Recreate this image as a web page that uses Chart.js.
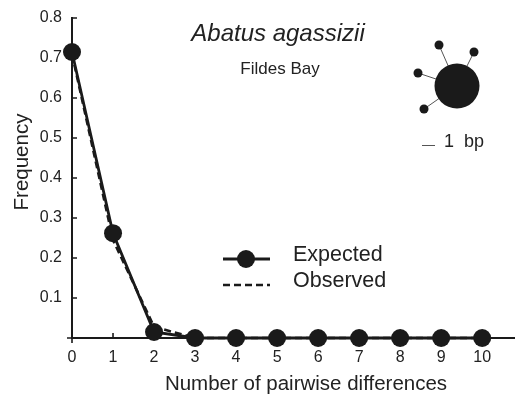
<!DOCTYPE html>
<html><head><meta charset="utf-8">
<script src="https://cdn.jsdelivr.net/npm/chart.js@4.4.1/dist/chart.umd.min.js"></script>
<style>html,body{margin:0;padding:0;background:#fff}#wrap{width:515px;height:395px}</style>
</head><body><div id="wrap"><canvas id="c" width="515" height="395"></canvas></div>
<script>
const categories = [0, 1, 2, 3, 4, 5, 6, 7, 8, 9, 10];
const expected = [0.715, 0.262, 0.015, 0, 0, 0, 0, 0, 0, 0, 0];
const observed = [0.71, 0.245, 0.028, 0, 0, 0, 0, 0, 0, 0, 0];
const xTicks = [0, 1, 2, 3, 4, 5, 6, 7, 8, 9, 10];
const yTicks = [0.1, 0.2, 0.3, 0.4, 0.5, 0.6, 0.7, 0.8];
const seriesNames = ['Expected', 'Observed'];
const titleText = 'Abatus agassizii';
const subtitleText = 'Fildes Bay';
const xTitle = 'Number of pairwise differences';
const yTitle = 'Frequency';
const scaleText = '1  bp';

const FONT = "'Liberation Sans', Arial, Helvetica, sans-serif";
const INK = '#1a1a1a';
const TXT = '#222';

const decor = {
  id: 'decor',
  beforeDatasetsDraw(chart) {
    const ctx = chart.ctx, xs = chart.scales.x, ys = chart.scales.y;
    const x0 = xs.getPixelForValue(0), y0 = ys.getPixelForValue(0);
    ctx.save();
    ctx.strokeStyle = INK; ctx.lineWidth = 1.6;
    ctx.beginPath();
    yTicks.forEach(v => { const p = ys.getPixelForValue(v); ctx.moveTo(x0, p); ctx.lineTo(x0 + 5, p); });
    xTicks.forEach(v => { if (v === 0) return; const p = xs.getPixelForValue(v); ctx.moveTo(p, y0); ctx.lineTo(p, y0 - 5); });
    ctx.moveTo(x0, y0); ctx.lineTo(x0, y0 + 5);
    ctx.moveTo(x0 - 5, y0); ctx.lineTo(x0, y0);
    ctx.stroke();
    ctx.restore();
  },
  afterDraw(chart) {
    const ctx = chart.ctx;
    ctx.save();
    ctx.fillStyle = TXT;
    ctx.textAlign = 'center'; ctx.textBaseline = 'middle';
    ctx.font = 'italic 24px ' + FONT;
    ctx.fillText(titleText, 278, 34);
    ctx.font = '17px ' + FONT;
    ctx.fillText(subtitleText, 280, 69);
    // axis titles
    ctx.font = '20.5px ' + FONT;
    ctx.fillText(xTitle, 306, 384);
    ctx.save();
    ctx.translate(22, 162); ctx.rotate(-Math.PI / 2);
    ctx.fillText(yTitle, 0, 0);
    ctx.restore();
    // legend
    const ds = chart.data.datasets;
    const ly = [259, 285];
    ds.forEach((d, i) => {
      const y = ly[i];
      ctx.strokeStyle = d.borderColor; ctx.lineWidth = d.borderWidth;
      ctx.setLineDash(d.borderDash || []);
      ctx.beginPath(); ctx.moveTo(223, y); ctx.lineTo(270, y); ctx.stroke();
      ctx.setLineDash([]);
      if (d.pointRadius > 0) {
        ctx.fillStyle = d.pointBackgroundColor;
        ctx.beginPath(); ctx.arc(246, y, d.pointRadius, 0, Math.PI * 2); ctx.fill();
      }
      ctx.fillStyle = TXT; ctx.textAlign = 'left';
      ctx.font = '21.5px ' + FONT;
      ctx.fillText(d.label, 293, y - 4);
    });
    // haplotype network inset
    const cx = 457, cy = 86;
    const smalls = [[439, 45], [474, 52], [418, 73], [424, 109]];
    ctx.strokeStyle = '#555'; ctx.lineWidth = 1;
    smalls.forEach(([sx, sy]) => { ctx.beginPath(); ctx.moveTo(sx, sy); ctx.lineTo(cx, cy); ctx.stroke(); });
    ctx.fillStyle = INK;
    ctx.beginPath(); ctx.arc(cx, cy, 22.5, 0, Math.PI * 2); ctx.fill();
    smalls.forEach(([sx, sy]) => { ctx.beginPath(); ctx.arc(sx, sy, 4.5, 0, Math.PI * 2); ctx.fill(); });
    ctx.strokeStyle = '#555'; ctx.lineWidth = 1;
    ctx.beginPath(); ctx.moveTo(422, 145.5); ctx.lineTo(435, 145.5); ctx.stroke();
    ctx.fillStyle = TXT; ctx.textAlign = 'left'; ctx.font = '18px ' + FONT;
    ctx.fillText(scaleText, 444, 142);
    ctx.restore();
  }
};

new Chart(document.getElementById('c'), {
  type: 'line',
  data: {
    datasets: [
      {
        label: seriesNames[0],
        data: categories.map((c, i) => ({ x: c, y: expected[i] })),
        borderColor: INK, borderWidth: 2.8,
        pointRadius: 9, pointHoverRadius: 9,
        pointBackgroundColor: INK, pointBorderColor: INK, pointBorderWidth: 0,
        tension: 0, clip: false
      },
      {
        label: seriesNames[1],
        data: categories.map((c, i) => ({ x: c, y: observed[i] })),
        borderColor: INK, borderWidth: 2.6, borderDash: [7, 4],
        pointRadius: 0, pointHoverRadius: 0,
        tension: 0, clip: false
      }
    ]
  },
  options: {
    responsive: false, animation: false, devicePixelRatio: 1,
    layout: { autoPadding: false, padding: { top: 18, left: 0, right: 0, bottom: 0 } },
    plugins: { legend: { display: false }, tooltip: { enabled: false }, title: { display: false } },
    scales: {
      x: {
        type: 'linear', min: 0, max: 10.8,
        afterBuildTicks: s => { s.ticks = xTicks.map(v => ({ value: v })); },
        afterFit: s => { s.height = 57; s.paddingLeft = 0; s.paddingRight = 0; },
        grid: { display: false, drawTicks: false },
        border: { display: true, color: INK, width: 2 },
        ticks: { padding: 10, color: TXT, font: { size: 16, family: FONT }, autoSkip: false, maxRotation: 0,
                 callback: v => String(v) }
      },
      y: {
        type: 'linear', min: 0, max: 0.8,
        afterBuildTicks: s => { s.ticks = yTicks.map(v => ({ value: v })); },
        afterFit: s => { s.width = 72; s.paddingTop = 0; s.paddingBottom = 0; },
        grid: { display: false, drawTicks: false },
        border: { display: true, color: INK, width: 2 },
        ticks: { padding: 10, color: TXT, font: { size: 16, family: FONT },
                 callback: v => Number(v).toFixed(1) }
      }
    }
  },
  plugins: [decor]
});
</script>
</body></html>
